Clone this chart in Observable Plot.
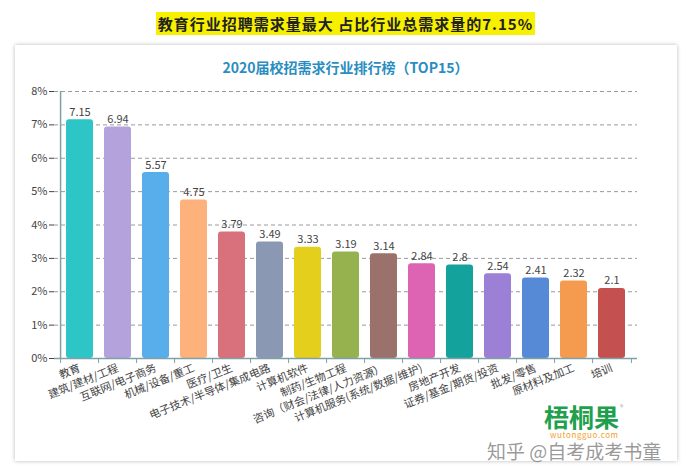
<!DOCTYPE html>
<html><head><meta charset="utf-8">
<script src="https://cdn.jsdelivr.net/npm/d3@7"></script>
<script src="https://cdn.jsdelivr.net/npm/@observablehq/plot@0.6"></script>
<style>
body{margin:0;background:#fff;width:691px;height:476px;overflow:hidden;position:relative;font-family:"Noto Sans CJK SC",sans-serif;}
#headline{position:absolute;left:0;width:691px;top:11px;text-align:center;}
#headline span{background:#f7f000;font-weight:bold;font-size:15px;letter-spacing:1px;color:#222;padding:1px 2px;line-height:22px;}
#card{position:absolute;left:15px;top:45px;width:662px;height:416px;background:#fff;box-shadow:0 0 4px rgba(0,0,0,0.28);}
#ctitle{position:absolute;left:0;width:691px;top:57px;text-align:center;font-weight:bold;font-size:14px;color:#2a8dbf;}
#chart{position:absolute;left:0;top:80px;}
.wm{position:absolute;white-space:nowrap;line-height:1;}
</style></head>
<body>
<div id="card"></div>
<div id="headline"><span>教育行业招聘需求量最大 占比行业总需求量的7.15%</span></div>
<div id="ctitle">2020届校招需求行业排行榜（TOP15）</div>
<div id="chart"></div>
<div class="wm" style="left:544px;top:404px;font-size:25px;font-weight:bold;color:#1ea04c;">梧桐果</div>
<div class="wm" style="left:620px;top:404px;font-size:7px;color:#aaa;">®</div>
<div class="wm" style="left:550px;top:431px;font-size:8px;color:#f0a030;letter-spacing:0.6px;">wutongguo.com</div>
<div class="wm" style="left:487px;top:441px;font-size:19px;color:rgba(120,120,120,0.75);">知乎 @自考成考书童</div>
<script>
const categories = ["教育","建筑/建材/工程","互联网/电子商务","机械/设备/重工","医疗/卫生","电子技术/半导体/集成电路","计算机软件","制药/生物工程","咨询（财会/法律/人力资源）","计算机服务(系统/数据/维护)","房地产开发","证券/基金/期货/投资","批发/零售","原材料及加工","培训"];
const values = [7.15,6.94,5.57,4.75,3.79,3.49,3.33,3.19,3.14,2.84,2.8,2.54,2.41,2.32,2.1];
const colors = ["#2ec5c7","#b3a2dc","#58aeea","#fdb27b","#d8717b","#8b98b4","#e4cf1c","#95b24f","#9a716b","#dc64b3","#14a29c","#9b80d6","#5689d6","#f59b4f","#c4504f"];
const yTicks = [0,1,2,3,4,5,6,7,8];

const data = categories.map((c,i)=>({cat:c, value:values[i], color:colors[i]}));
const W=691, mL=54, mR=54;
const step=(W-mL-mR)/categories.length;
const axisColor="#7fa0a4";

const chart = Plot.plot({
  width:W, height:380, marginLeft:mL, marginRight:mR, marginTop:11, marginBottom:102,
  style:{fontFamily:"'Noto Sans CJK SC', sans-serif", fontSize:"11px", color:"#444", background:"transparent", overflow:"visible"},
  x:{domain:categories, padding:0.3, label:null, tickRotate:-22, tickSize:0, tickPadding:9},
  y:{domain:[0,8], ticks:yTicks, tickFormat:d=>d+"%", label:null, tickSize:5, tickPadding:2},
  marks:[
    Plot.ruleY(yTicks.filter(d=>d>0), {stroke:"#9a9a9a", strokeDasharray:"4,3", strokeWidth:1}),
    Plot.barY(data, {x:"cat", y:"value", fill:"color", rx:3}),
    Plot.text(data, {x:"cat", y:"value", text:d=>String(d.value), lineAnchor:"bottom", dy:-4, fill:"#444", fontSize:11}),
    Plot.ruleY([0], {stroke:axisColor, strokeWidth:1.5}),
    Plot.ruleX([categories[0]], {x:d=>d, y1:0, y2:8, dx:-step/2, stroke:axisColor, strokeWidth:1.5}),
    Plot.ruleX(categories, {x:d=>d, y1:0, y2:-0.15, dx:-step/2, stroke:axisColor}),
    Plot.ruleX([categories[categories.length-1]], {x:d=>d, y1:0, y2:-0.15, dx:step/2, stroke:axisColor})
  ]
});
document.getElementById("chart").appendChild(chart);
</script>
</body></html>
